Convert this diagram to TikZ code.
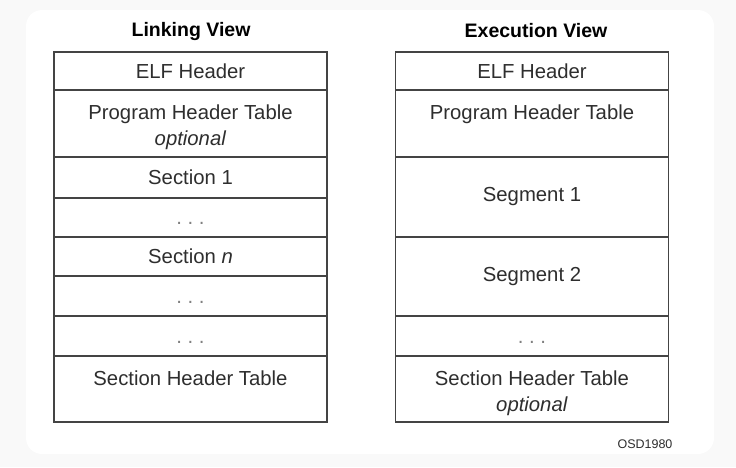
\documentclass[tikz,border=0pt]{standalone}
\usepackage{fontspec}
\setmainfont{Liberation Sans}
\usetikzlibrary{positioning}
\definecolor{linegray}{HTML}{444444}
\definecolor{textgray}{HTML}{2E2E2E}
\begin{document}
\begin{tikzpicture}[
        x=1pt, y=-1pt,
        row/.style={draw=linegray, line width=1.3pt, minimum width=273pt, outer sep=0pt, inner sep=2pt, align=center, text=textgray, font=\fontsize{20.3}{26}\selectfont, anchor=north},
        rowtext/.style={align=center, text=textgray, font=\fontsize{20.3}{26}\selectfont, yshift=-4pt},
        dots/.style={row, text=gray, text height=14.6pt, text depth=0pt},
        title/.style={font=\bfseries\fontsize{19.5}{22}\selectfont, text=black},
        node distance=0pt
    ]

    % Background
    \fill[black!2.5] (0,0) rectangle (736,467);
    \fill[white, rounded corners=16pt] (26,10) rectangle (714,454);
    \useasboundingbox (0,0) rectangle (736,467);

    % Linking view
    \node[title] (ltitle) at (191,31) {Linking View};
    \node[row, minimum height=38pt] (lelf) at (190.5,52) {ELF Header};
    \node[row, minimum height=67pt, below=of lelf] (lpht) {};
    \node[row, minimum height=41pt, below=of lpht] (lsec1) {Section 1};
    \node[dots, minimum height=39pt, below=of lsec1] (ldots1) {.\ .\ .};
    \node[row, minimum height=39pt, below=of ldots1] (lsecn) {Section \textit{n}};
    \node[dots, minimum height=40pt, below=of lsecn] (ldots2) {.\ .\ .};
    \node[dots, minimum height=40pt, below=of ldots2] (ldots3) {.\ .\ .};
    \node[row, minimum height=66pt, below=of ldots3] (lsht) {};
    \node[rowtext] (lphttext) at (lpht.center) {Program Header Table\\\textit{optional}};
    \node[rowtext] (lshttext) at (lsht.center) {Section Header Table\\\phantom{optional}};

    % Execution view
    \node[title] (etitle) at (536,31) {Execution View};
    \node[row, minimum height=38pt] (eelf) at (532,52) {ELF Header};
    \node[row, minimum height=67pt, below=of eelf] (epht) {};
    \node[row, minimum height=80pt, below=of epht] (eseg1) {Segment 1};
    \node[row, minimum height=79pt, below=of eseg1] (eseg2) {Segment 2};
    \node[dots, minimum height=40pt, below=of eseg2] (edots) {.\ .\ .};
    \node[row, minimum height=66pt, below=of edots] (esht) {};
    \node[rowtext] (ephttext) at (epht.center) {Program Header Table\\\phantom{optional}};
    \node[rowtext] (eshttext) at (esht.center) {Section Header Table\\\textit{optional}};

    % Figure code
    \node[font=\fontsize{12.5}{14}\selectfont, text=textgray] (code) at (645,444) {OSD1980};

\end{tikzpicture}
\end{document}
